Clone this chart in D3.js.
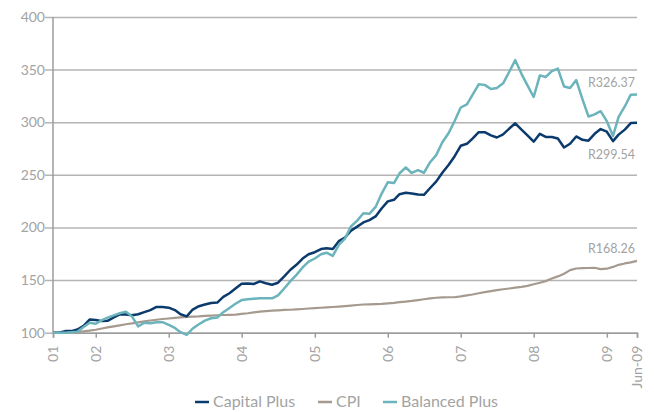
<!DOCTYPE html>
<html>
<head>
<meta charset="UTF-8">
<style>
body {
	margin: 0 ;
	background-color: #ffffff ;
	font-family: Lato, "Open Sans", Arial, sans-serif ;
}
.tick text, .lbl {
	fill: #a3a3a3 ;
}
</style>
<title>Capital Plus vs CPI vs Balanced Plus</title>
<script src="https://cdn.jsdelivr.net/npm/d3@7/dist/d3.min.js"></script>
</head>
<body>
<div id="chart"></div>
<script type="text/javascript">

	// monthly index values, Jun 2001 .. Jun 2009 (base 100)
	const months = d3.timeMonth.range( new Date(2001, 5, 1), new Date(2009, 6, 1) ) ;

	const capitalPlus = [100, 100, 101.5, 101.5, 103, 106.5, 112.5, 112, 111, 111.3,
		114.5, 117.5, 117.2, 116.5, 117.5, 119.5, 121.5, 124.5, 124.5, 123.8,
		121.5, 117.5, 115.5, 122, 125.2, 126.8, 128.3, 128.6, 134, 137.5,
		142, 146.5, 146.8, 146.3, 148.8, 147, 145.6, 147.5, 153.5, 159.8,
		164.5, 170.5, 174.5, 176.5, 179.5, 180.3, 179.5, 187, 190.5, 197,
		200.8, 204.8, 207, 210.5, 218, 224.8, 226.3, 231.6, 233, 232.3,
		231.3, 231, 237.5, 243.8, 252, 259.4, 267.5, 277.6, 279.5, 284.5,
		290.5, 290.5, 287.5, 285.5, 288.5, 294, 299, 293, 287.5, 281.5,
		289, 286, 286, 284.5, 276, 279.5, 286.5, 283.3, 282.5, 289,
		293.5, 291, 282, 288.2, 293, 299.2, 299.54] ;

	const cpi = [100, 100, 100, 100, 100.5, 101.2, 102, 102.8, 104, 105,
		106, 107, 108, 108.8, 109.8, 110.8, 111.6, 112.3, 113, 113.5,
		114, 114.5, 115, 115.2, 115.5, 116, 116.3, 116.6, 116.8, 117,
		117.2, 117.8, 118.5, 119.3, 120, 120.5, 121, 121.3, 121.6, 121.8,
		122.1, 122.5, 123, 123.3, 123.7, 124.1, 124.4, 124.8, 125.3, 125.8,
		126.3, 126.8, 127, 127.2, 127.4, 127.8, 128.3, 129, 129.6, 130.2,
		131, 131.8, 132.7, 133.2, 133.5, 133.7, 133.7, 134.5, 135.5, 136.3,
		137.5, 138.5, 139.5, 140.5, 141.3, 142, 142.8, 143.5, 144.5, 146,
		147.5, 149, 151.5, 153.5, 156, 159.5, 161, 161.3, 161.5, 161.7,
		160.4, 160.8, 162.5, 164.5, 165.8, 166.8, 168.26] ;

	const balancedPlus = [100, 100, 100, 100.5, 101, 105.5, 109.5, 108.5, 112, 114.3,
		116.5, 118.5, 120, 115.5, 106, 109.5, 109, 110, 110, 107.5,
		104.5, 100.5, 98, 104, 108, 111.5, 113.7, 114.5, 119.5, 123.5,
		127.5, 131, 131.7, 132.2, 132.7, 132.7, 132.7, 135.5, 142, 149,
		155, 162, 167.5, 170.5, 174.5, 176, 173, 183.5, 189.5, 201,
		206.5, 213.5, 213, 219.5, 232, 243, 242.2, 251.5, 257, 251.8,
		254.5, 252, 262, 269, 281, 289.5, 301, 314, 317, 326,
		336, 335.5, 331.5, 332.5, 337, 348, 359, 346, 335, 324,
		344.5, 343, 348.5, 351, 334, 332.5, 340, 322, 305.5, 307.5,
		310.5, 301, 287, 305, 315, 326.2, 326.37] ;

	const seriesNames = [ "Capital Plus", "CPI", "Balanced Plus" ] ;
	const seriesColors = [ "#0b3a6c", "#a69a8f", "#6cb4bb" ] ;
	const endLabels = [ "R299.54", "R168.26", "R326.37" ] ;

	const yTicks = [ 100, 150, 200, 250, 300, 350, 400 ] ;
	const xTickDates = [ new Date(2001,5,1), new Date(2002,0,1), new Date(2003,0,1), new Date(2004,0,1),
		new Date(2005,0,1), new Date(2006,0,1), new Date(2007,0,1), new Date(2008,0,1),
		new Date(2009,0,1), new Date(2009,5,1) ] ;
	const xTickLabels = [ "01", "02", "03", "04", "05", "06", "07", "08", "09", "Jun-09" ] ;

	const width = 654 ;
	const height = 412 ;
	const margin = { left: 53, right: 17, top: 17, bottom: 79 } ;

	const svg = d3.select("#chart").append("svg")
		.attr("width", width)
		.attr("height", height)

	const x = d3.scaleTime()
		.domain( [ xTickDates[0], xTickDates[xTickDates.length-1] ] )
		.range( [ margin.left, width - margin.right ] ) ;

	const y = d3.scaleLinear()
		.domain( [ 100, 400 ] )
		.range( [ height - margin.bottom - 0.3, margin.top ] ) ;

	// gridlines + y labels
	const yAxis = svg.append("g")
		.attr("transform", "translate(" + margin.left + ",0)")
		.call( d3.axisLeft(y).tickValues(yTicks).tickSize(-(width - margin.right - margin.left)).tickPadding(8) ) ;
	yAxis.select(".domain").remove() ;
	yAxis.selectAll(".tick line")
		.attr("x1", -8)
		.attr("stroke", "#b4b4b4")
		.attr("stroke-width", 1.5) ;
	yAxis.selectAll(".tick text")
		.attr("font-size", "14px")
		.attr("font-family", "Lato, sans-serif") ;

	// vertical axis line
	svg.append("line")
		.attr("x1", margin.left).attr("x2", margin.left)
		.attr("y1", y(400)).attr("y2", y(100))
		.attr("stroke", "#9c9c9c")
		.attr("stroke-width", 1.5) ;

	// x axis
	const xAxis = svg.append("g")
		.attr("transform", "translate(0," + y(100) + ")")
		.call( d3.axisBottom(x).tickValues(xTickDates).tickSize(5)
			.tickFormat( function(d, i) { return xTickLabels[i] ; } ) ) ;
	xAxis.select(".domain")
		.attr("stroke", "#9c9c9c")
		.attr("stroke-width", 1.5) ;
	xAxis.selectAll(".tick line")
		.attr("stroke", "#9c9c9c")
		.attr("stroke-width", 1.5) ;
	xAxis.selectAll(".tick text")
		.attr("font-size", "14px")
		.attr("font-family", "Lato, sans-serif")
		.attr("text-anchor", "end")
		.attr("transform", "rotate(-90)")
		.attr("x", -13)
		.attr("y", 0)
		.attr("dy", "0.35em") ;

	// lines
	const allSeries = [ capitalPlus, cpi, balancedPlus ] ;
	const line = d3.line()
		.x( function(d, i) { return x( months[i] ) ; } )
		.y( function(d) { return y( d ) ; } ) ;

	// draw CPI first, then capital plus, then balanced plus on top
	[ 1, 0, 2 ].forEach( function(k) {
		svg.append("path")
			.datum( allSeries[k] )
			.attr("fill", "none")
			.attr("stroke", seriesColors[k])
			.attr("stroke-width", k == 1 ? 2.2 : 2.5)
			.attr("stroke-linejoin", "round")
			.attr("d", line) ;
	}) ;

	// end value labels (baseline offset from the last point)
	const endOffsets = [ 36, -8, -7 ] ;
	allSeries.forEach( function(s, k) {
		svg.append("text")
			.attr("class", "lbl")
			.attr("x", 635)
			.attr("y", y( s[s.length-1] ) + endOffsets[k])
			.attr("text-anchor", "end")
			.attr("font-size", "12.5px")
			.attr("font-family", "Lato, sans-serif")
			.text( endLabels[k] ) ;
	}) ;

	// legend
	const legendX = [ 195, 318, 383 ] ;
	const legend = svg.append("g") ;
	seriesNames.forEach( function(name, k) {
		legend.append("line")
			.attr("x1", legendX[k]).attr("x2", legendX[k] + 14)
			.attr("y1", 402).attr("y2", 402)
			.attr("stroke", seriesColors[k])
			.attr("stroke-width", 2.5) ;
		legend.append("text")
			.attr("class", "lbl")
			.attr("x", legendX[k] + 18)
			.attr("y", 407)
			.attr("font-size", "16px")
			.attr("font-family", "Lato, sans-serif")
			.text( name ) ;
	}) ;

</script>
</body>
</html>
